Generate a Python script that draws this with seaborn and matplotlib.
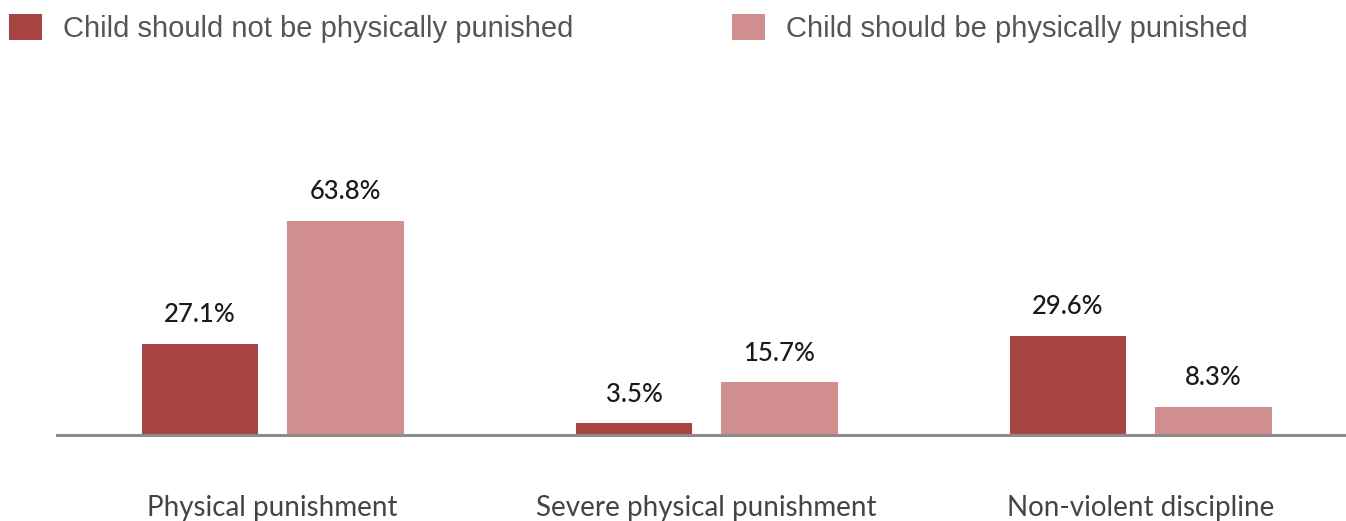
import matplotlib
matplotlib.use("Agg")
import matplotlib.pyplot as plt
import seaborn as sns
import pandas as pd

categories = ["Physical punishment", "Severe physical punishment", "Non-violent discipline"]
series_names = ["Child should not be physically punished", "Child should be physically punished"]
not_punished = [27.1, 3.5, 29.6]
punished = [63.8, 15.7, 8.3]
colors = ["#A84542", "#D08E8E"]

df = pd.DataFrame({
    "category": categories * 2,
    "series": [series_names[0]] * 3 + [series_names[1]] * 3,
    "value": not_punished + punished,
})

sns.set_theme(style="white")
plt.rcParams["font.family"] = ["Lato", "DejaVu Sans"]

W, H = 1346, 521
fig = plt.figure(figsize=(W / 100, H / 100), dpi=100)
ax = fig.add_axes([57 / W, 1 - 435 / H, 1 - 57 / W, (435 - 80) / H])

sns.barplot(data=df, x="category", y="value", hue="series", order=categories,
            hue_order=series_names, palette=colors, width=0.67, gap=0.2,
            saturation=1, ax=ax, legend=True, linewidth=0)

ax.set_xlim(-0.497, 2.473)
ax.set_ylim(0, (435 - 80) / 3.36)

for cont in ax.containers:
    for bar in cont:
        h = bar.get_height()
        ax.annotate(f"{h:.1f}%", (bar.get_x() + bar.get_width() / 2, h),
                    xytext=(0, 12), textcoords="offset points",
                    ha="center", va="bottom", fontsize=18.5, fontweight="medium",
                    color="#1a1a1a")

for s in ["top", "right", "left"]:
    ax.spines[s].set_visible(False)
ax.spines["bottom"].set_color("#8c8c8c")
ax.spines["bottom"].set_linewidth(2.2)
ax.set_yticks([])
ax.set_xlabel("")
ax.set_ylabel("")
ax.tick_params(axis="x", length=0, pad=43, labelsize=20, labelcolor="#444444")

handles, labels = ax.get_legend_handles_labels()
ax.get_legend().remove()
fig.legend(handles, labels, loc="upper left", bbox_to_anchor=(9 / W, 1 - 14 / H),
           ncol=2, frameon=False, handlelength=1.12, handleheight=1.0,
           handletextpad=0.72, columnspacing=5.45, borderpad=0, borderaxespad=0,
           labelcolor="#555555", prop={"family": ["Liberation Sans"], "size": 21})

fig.savefig("out.png", dpi=100)
